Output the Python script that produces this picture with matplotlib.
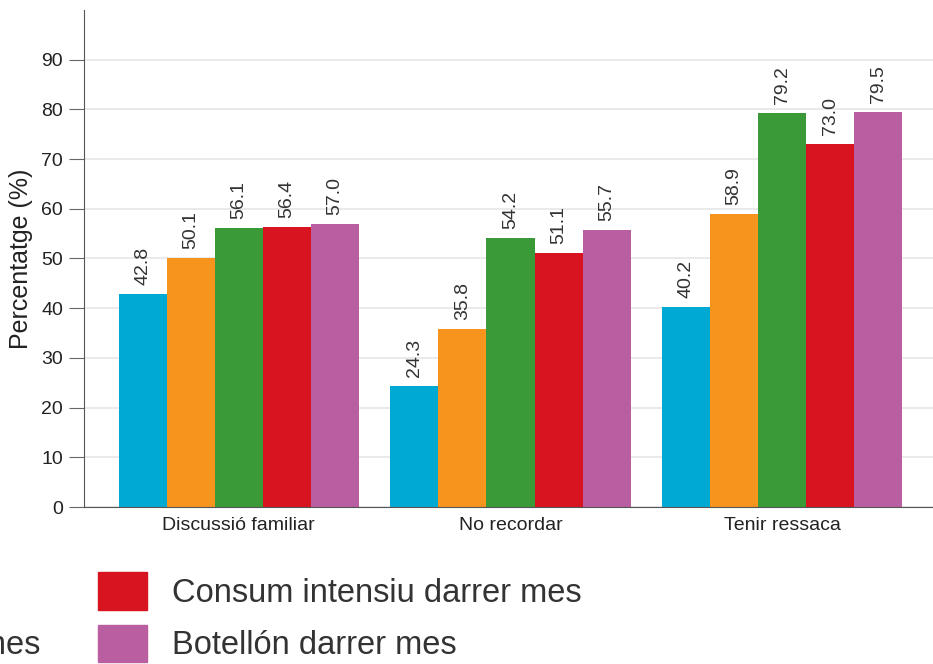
import numpy as np
import matplotlib.pyplot as plt
from matplotlib.patches import Patch

plt.rcParams['font.family'] = ['Liberation Sans', 'DejaVu Sans']

# data
categories = ['Discussió familiar', 'No recordar', 'Tenir ressaca']
series_names = ['Consum alguna vegada', "Consum d'alcohol darrer mes",
                'Borratxeres darrer mes', 'Consum intensiu darrer mes',
                'Botellón darrer mes']
values = [
    [42.8, 24.3, 40.2],
    [50.1, 35.8, 58.9],
    [56.1, 54.2, 79.2],
    [56.4, 51.1, 73.0],
    [57.0, 55.7, 79.5],
]
colors = ['#00a9d4', '#f7941d', '#3b9a38', '#d7141f', '#b95ea0']
yticks = [0, 10, 20, 30, 40, 50, 60, 70, 80, 90]

fig = plt.figure(figsize=(9.33, 6.64), dpi=100)
ax = fig.add_axes([0.09, 0.2364, 0.91, 0.7486])

x = np.arange(len(categories))
width = 0.177
for i, (name, vals, col) in enumerate(zip(series_names, values, colors)):
    pos = x + (i - 2) * width
    ax.bar(pos, vals, width=width, color=col, zorder=2)
    for px, v in zip(pos, vals):
        ax.text(px, v + 1.8, f'{v:.1f}', rotation=90, ha='center', va='bottom',
                fontsize=14, color='#333333')

ax.set_xlim(-0.57, 2.555)
ax.set_ylim(0, 100)
ax.set_yticks(yticks)
ax.set_xticks(x)
ax.set_xticklabels(categories, fontsize=14, color='#222222')
ax.tick_params(axis='x', length=0, pad=7)
ax.tick_params(axis='y', labelsize=14, length=11, color='#666666', labelcolor='#222222', pad=4)
ax.set_ylabel('Percentatge (%)', fontsize=18, color='#222222', labelpad=6)
ax.yaxis.grid(True, color='#e6e6e6', linewidth=1.2, zorder=0)
ax.set_axisbelow(True)
for s in ['top', 'right']:
    ax.spines[s].set_visible(False)
ax.spines['left'].set_color('#555555')
ax.spines['bottom'].set_color('#555555')

# legend, cropped at the left edge like the reference
h1 = [Patch(color=c) for c in colors[:3]]
h2 = [Patch(color=c) for c in colors[3:]]
kw = dict(frameon=False, fontsize=23.5, handlelength=1.5, handleheight=1.4,
          handletextpad=0.75, labelspacing=0.45, borderpad=0, labelcolor='#333333')
fig.legend(h2, series_names[3:], loc='upper left',
           bbox_to_anchor=(82 / 933, 1 - 556 / 664), **kw)
fig.legend(h1, series_names[:3], loc='upper right',
           bbox_to_anchor=(57 / 933, 1 - 556 / 664), **kw)

fig.savefig('out.png', dpi=100)
